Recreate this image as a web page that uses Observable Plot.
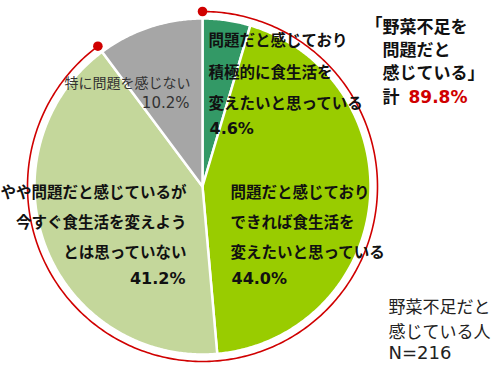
<!DOCTYPE html>
<html><head><meta charset="utf-8">
<script src="https://cdn.jsdelivr.net/npm/d3@7"></script>
<script src="https://cdn.jsdelivr.net/npm/@observablehq/plot@0.6"></script>
<style>html,body{margin:0;padding:0;background:#fff} svg{display:block}</style>
</head><body><div id="chart"></div>
<script>
// ---- data ----
const categories = ["積極的に変えたい", "できれば変えたい", "今すぐ変えようとは思っていない", "特に問題を感じない"];
const labels = [
  "問題だと感じており\n積極的に食生活を\n変えたいと思っている",
  "問題だと感じており\nできれば食生活を\n変えたいと思っている",
  "やや問題だと感じているが\n今すぐ食生活を変えよう\nとは思っていない",
  "特に問題を感じない"
];
const values = [4.6, 44.0, 41.2, 10.2];
const colors = ["#339966", "#99cc00", "#c4d79b", "#a6a6a6"];
const totalTitle = "野菜不足を\n問題だと\n感じている」";
const totalPrefix = "計";
const totalValue = 89.8;
const noteText = "野菜不足だと\n感じている人";
const sampleText = "N=216";

// ---- layout ----
const W = 500, H = 373;
const CX = 202, CY = 186, R = 168, RR = 175;
const FONT = "'Noto Sans CJK JP', 'Noto Sans', sans-serif";
const NUMFONT = "'DejaVu Sans', sans-serif";
const pt = (r, deg) => ({x: CX + r * Math.sin(deg * Math.PI / 180), y: CY - r * Math.cos(deg * Math.PI / 180)});

const sum = d3.sum(values);
let acc = 0;
const slicePts = [];
values.forEach((v, i) => {
  const a0 = acc / sum * 360, a1 = (acc + v) / sum * 360;
  acc += v;
  slicePts.push({key: categories[i], color: colors[i], ...pt(0, 0)});
  const n = Math.max(2, Math.ceil((a1 - a0) / 0.5));
  for (let k = 0; k <= n; k++) slicePts.push({key: categories[i], color: colors[i], ...pt(R, a0 + (a1 - a0) * k / n)});
});

const arcEnd = totalValue / 100 * 360;
const arcPts = d3.range(0, 361).map(k => pt(RR, arcEnd * k / 360));
const arcDots = [pt(RR, 0), pt(RR, arcEnd)];

const labelLayout = [
  {x: 208, y: 67, py: 128, px: 209, anchor: "start", lh: 2.03, size: 15.5, psize: 16, weight: "bold", fill: "#111"},
  {x: 230, y: 218, py: 278, px: 231, anchor: "start", lh: 1.94, size: 15.5, psize: 16, weight: "bold", fill: "#111"},
  {x: 186, y: 218, py: 278, px: 185, anchor: "end", lh: 1.94, size: 15.5, psize: 16, weight: "bold", fill: "#111"},
  {x: 190, y: 80, py: 103, px: 189, anchor: "end", lh: 1.6, size: 14, psize: 15, weight: "normal", fill: "#333"}
];
const labelMarks = labels.flatMap((t, i) => {
  const L = labelLayout[i];
  return [
    Plot.text([t], {
      x: () => L.x, y: () => L.y, text: d => d, textAnchor: L.anchor, lineHeight: L.lh,
      fontSize: L.size, fontWeight: L.weight, fill: L.fill, fontFamily: FONT
    }),
    Plot.text([values[i].toFixed(1) + "%"], {
      x: () => L.px, y: () => L.py, text: d => d, textAnchor: L.anchor,
      fontSize: L.psize, fontWeight: L.weight, fill: L.fill, fontFamily: NUMFONT
    })
  ];
});

const chart = Plot.plot({
  width: W, height: H, margin: 0,
  x: {domain: [0, W], range: [0, W], axis: null},
  y: {domain: [0, H], range: [0, H], axis: null},
  color: {type: "identity"},
  style: {fontFamily: FONT, background: "#fff"},
  marks: [
    Plot.line(slicePts, {x: "x", y: "y", z: "key", fill: "color", stroke: "#fff", strokeWidth: 2.5, strokeLinejoin: "round", curve: "linear-closed"}),
    Plot.line(arcPts, {x: "x", y: "y", stroke: "#d00000", strokeWidth: 1.6}),
    Plot.dot(arcDots, {x: "x", y: "y", r: 4.8, fill: "#d00000"}),
    ...labelMarks,
    Plot.text(["「"], {x: () => 382, y: () => 25, text: d => d, textAnchor: "end", fontSize: 17, fontWeight: "bold", fill: "#111", fontFamily: FONT}),
    Plot.text([totalTitle], {x: () => 382, y: () => 48, text: d => d, textAnchor: "start", lineHeight: 1.35, fontSize: 17, fontWeight: "bold", fill: "#111", fontFamily: FONT}),
    Plot.text([totalPrefix], {x: () => 382, y: () => 97, text: d => d, textAnchor: "start", fontSize: 17, fontWeight: "bold", fill: "#111", fontFamily: FONT}),
    Plot.text([totalValue.toFixed(1) + "%"], {x: () => 408, y: () => 97, text: d => d, textAnchor: "start", fontSize: 17, fontWeight: "bold", fill: "#d00000", fontFamily: NUMFONT}),
    Plot.text([noteText], {x: () => 388, y: () => 317, text: d => d, textAnchor: "start", lineHeight: 1.45, fontSize: 17, fontWeight: "normal", fill: "#222", fontFamily: FONT}),
    Plot.text([sampleText], {x: () => 388, y: () => 353, text: d => d, textAnchor: "start", fontSize: 18, fontWeight: "normal", fill: "#222", fontFamily: NUMFONT})
  ]
});
document.getElementById("chart").appendChild(chart);
</script>
</body></html>
